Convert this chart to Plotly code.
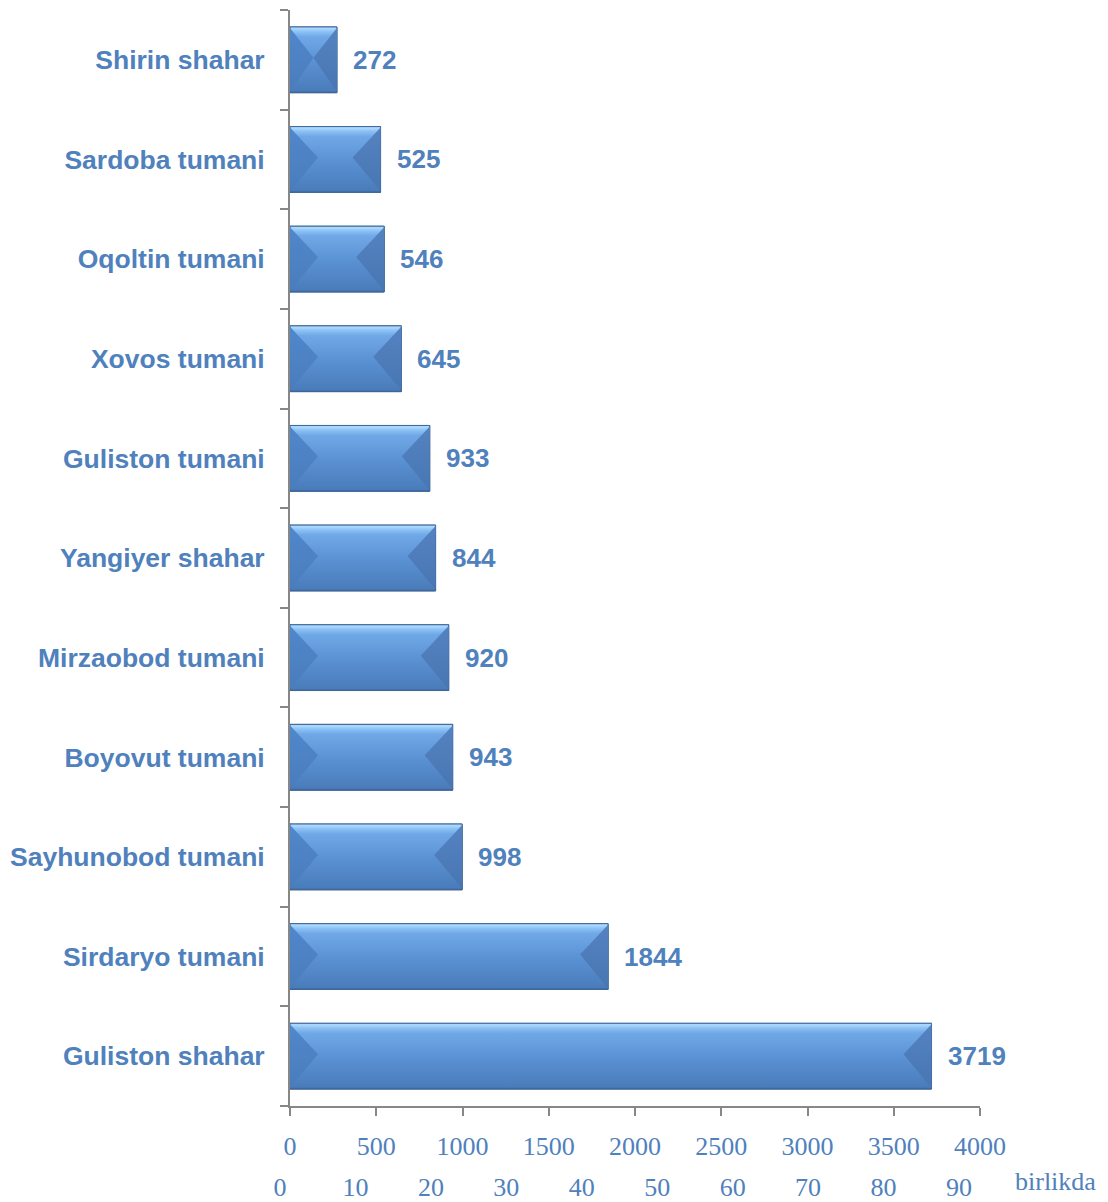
import plotly.graph_objects as go

# ---- data (top to bottom as shown) ----
categories = ["Shirin shahar", "Sardoba tumani", "Oqoltin tumani", "Xovos tumani",
              "Guliston tumani", "Yangiyer shahar", "Mirzaobod tumani", "Boyovut tumani",
              "Sayhunobod tumani", "Sirdaryo tumani", "Guliston shahar"]
value_labels = [272, 525, 546, 645, 933, 844, 920, 943, 998, 1844, 3719]
bar_lengths = [272, 525, 546, 645, 810, 844, 920, 943, 998, 1844, 3719]
x_ticks = [0, 500, 1000, 1500, 2000, 2500, 3000, 3500, 4000]
x2_ticks = [0, 10, 20, 30, 40, 50, 60, 70, 80, 90]
unit_label = "birlikda"

BLUE = "#4f81bd"
PAGE = 8                      # browser body margin
W, H = 1108 - PAGE, 1202 - PAGE
ML, MR, MT, MB = 262, 8, 2, 96
PW = W - ML - MR
PH = H - MT - MB

def px_x(page_px):
    return (page_px - PAGE - ML) / PW

def px_y(page_px):
    return 1 - (page_px - PAGE - MT) / PH

x_dom = [px_x(290), px_x(980)]
x2_dom = [px_x(280), px_x(959)]
XMAX = 4000
N = len(categories)
unit_px = (x_dom[1] - x_dom[0]) * PW / XMAX
half = 0.33
bevel = 28 / unit_px

fig = go.Figure()

# base bars on the category axis
fig.add_trace(go.Bar(x=bar_lengths, y=categories, orientation="h", width=2 * half,
                     marker=dict(color="#5a8fd2", line=dict(color="#3f6698", width=1)),
                     hoverinfo="skip", showlegend=False))

# bevel shading on a hidden numeric axis aligned with the categories
face_scale = [[0, "#3e669a"], [0.03, "#4a7cba"], [0.45, "#5990d2"], [0.85, "#70a8e7"],
              [0.93, "#8cc2f5"], [0.97, "#a9d6fc"], [1, "#a9d6fc"]]
left_scale = [[0, "#4a7cbb"], [1, "#5088cc"]]
right_scale = [[0, "#4876b3"], [1, "#5583c1"]]

for k, L in enumerate(bar_lengths):
    i = N - 1 - k
    y0, y1 = i - half, i + half
    d = min(bevel, L / 2)
    fig.add_trace(go.Scatter(x=[0, L, L, 0, 0], y=[y0, y0, y1, y1, y0], mode="lines", yaxis="y2",
                             fill="toself", fillgradient=dict(type="vertical", colorscale=face_scale),
                             line=dict(color="#3f6698", width=1), hoverinfo="skip", showlegend=False))
    fig.add_trace(go.Scatter(x=[0, d, 0, 0], y=[y1 - 0.01, i + 0.02, y0 + 0.01, y1 - 0.01], mode="lines",
                             yaxis="y2", fill="toself",
                             fillgradient=dict(type="vertical", colorscale=left_scale),
                             line=dict(width=0), hoverinfo="skip", showlegend=False))
    fig.add_trace(go.Scatter(x=[L, L - d, L, L], y=[y1 - 0.01, i + 0.02, y0 + 0.01, y1 - 0.01], mode="lines",
                             yaxis="y2", fill="toself",
                             fillgradient=dict(type="vertical", colorscale=right_scale),
                             line=dict(width=0), hoverinfo="skip", showlegend=False))

# dummy trace so the secondary x axis is drawn
fig.add_trace(go.Scatter(x=[None], y=[None], xaxis="x2", yaxis="y", hoverinfo="skip", showlegend=False))

for k, (L, lab) in enumerate(zip(bar_lengths, value_labels)):
    fig.add_annotation(x=L, y=categories[k], text=str(lab), xanchor="left", yanchor="middle", xshift=14,
                       showarrow=False,
                       font=dict(family="Liberation Sans", size=26, color=BLUE, weight="bold"))

fig.add_annotation(x=px_x(1013), y=px_y(1181), xref="paper", yref="paper",
                   text=unit_label, showarrow=False, xanchor="left", yanchor="middle",
                   font=dict(family="Liberation Serif", size=26, color=BLUE))

fig.update_layout(
    width=W, height=H,
    margin=dict(l=ML, r=MR, t=MT, b=MB, autoexpand=False),
    paper_bgcolor="white", plot_bgcolor="rgba(0,0,0,0)",
    barmode="overlay",
    xaxis=dict(domain=x_dom, range=[0, XMAX], tickvals=x_ticks, showgrid=False, zeroline=False,
               showline=True, linecolor="#878787", linewidth=2,
               ticks="outside", ticklen=8, tickwidth=2, tickcolor="#878787",
               ticklabelstandoff=8, automargin=False,
               tickfont=dict(family="Liberation Serif", size=26, color=BLUE)),
    xaxis2=dict(domain=x2_dom, range=[0, 90], tickvals=x2_ticks, anchor="free", position=0,
                showgrid=False, zeroline=False, showline=False, ticks="",
                ticklabelstandoff=63, automargin=False,
                tickfont=dict(family="Liberation Serif", size=26, color=BLUE)),
    yaxis=dict(domain=[0, 1], type="category", categoryorder="array",
               categoryarray=categories[::-1], range=[-0.5, N - 0.5], anchor="x",
               tickson="boundaries", ticks="outside", ticklen=8, tickwidth=2, tickcolor="#878787",
               showgrid=False, zeroline=False,
               showline=True, linecolor="#878787", linewidth=2,
               ticklabelstandoff=18, automargin=False,
               tickfont=dict(family="Liberation Sans", size=26.5, color=BLUE, weight="bold")),
    yaxis2=dict(domain=[0, 1], range=[-0.5, N - 0.5], overlaying="y", anchor="x",
                visible=False, showgrid=False, zeroline=False),
)

fig.write_html("out.html")
